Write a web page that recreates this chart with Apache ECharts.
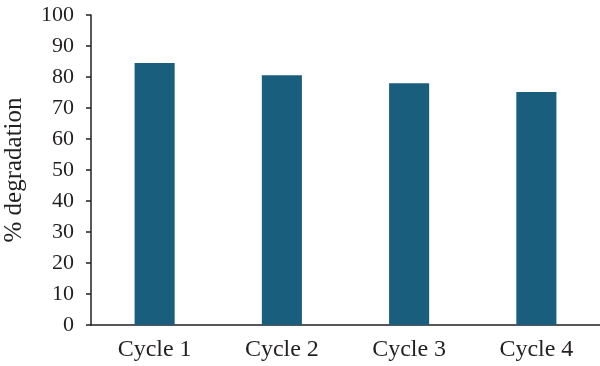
<!DOCTYPE html>
<html>
<head>
<meta charset="utf-8">
<script src="https://cdn.jsdelivr.net/npm/echarts@6/dist/echarts.min.js"></script>
<style>html,body{margin:0;padding:0;background:#fff}#c{width:600px;height:366px}</style>
</head>
<body>
<div id="c"></div>
<script>
const categories = ['Cycle 1', 'Cycle 2', 'Cycle 3', 'Cycle 4'];
const degradation = [84.5, 80.6, 78.0, 75.2];
const yName = '% degradation';

const chart = echarts.init(document.getElementById('c'), null, {renderer: 'canvas'});
const font = 'Liberation Serif';
chart.setOption({
  animation: false,
  grid: {left: 91, right: 0, top: 15, bottom: 41, containLabel: false, outerBoundsMode: 'none'},
  xAxis: {
    type: 'category',
    data: categories,
    axisLine: {lineStyle: {color: '#231f20', width: 1.5}},
    axisTick: {show: false},
    axisLabel: {fontFamily: font, fontSize: 24, color: '#231f20', margin: 13}
  },
  yAxis: {
    type: 'value',
    min: 0, max: 100, interval: 10,
    name: yName,
    nameLocation: 'middle',
    nameGap: 64,
    nameTextStyle: {fontFamily: font, fontSize: 25, color: '#231f20'},
    axisLine: {show: true, lineStyle: {color: '#231f20', width: 1.5}},
    axisTick: {show: true, length: 5, lineStyle: {color: '#231f20', width: 1.5}},
    splitLine: {show: false},
    axisLabel: {fontFamily: font, fontSize: 22, color: '#231f20', margin: 17}
  },
  series: [{
    type: 'bar',
    data: degradation,
    barWidth: '31.5%',
    itemStyle: {color: '#1a5e7e'}
  }]
});
</script>
</body>
</html>
